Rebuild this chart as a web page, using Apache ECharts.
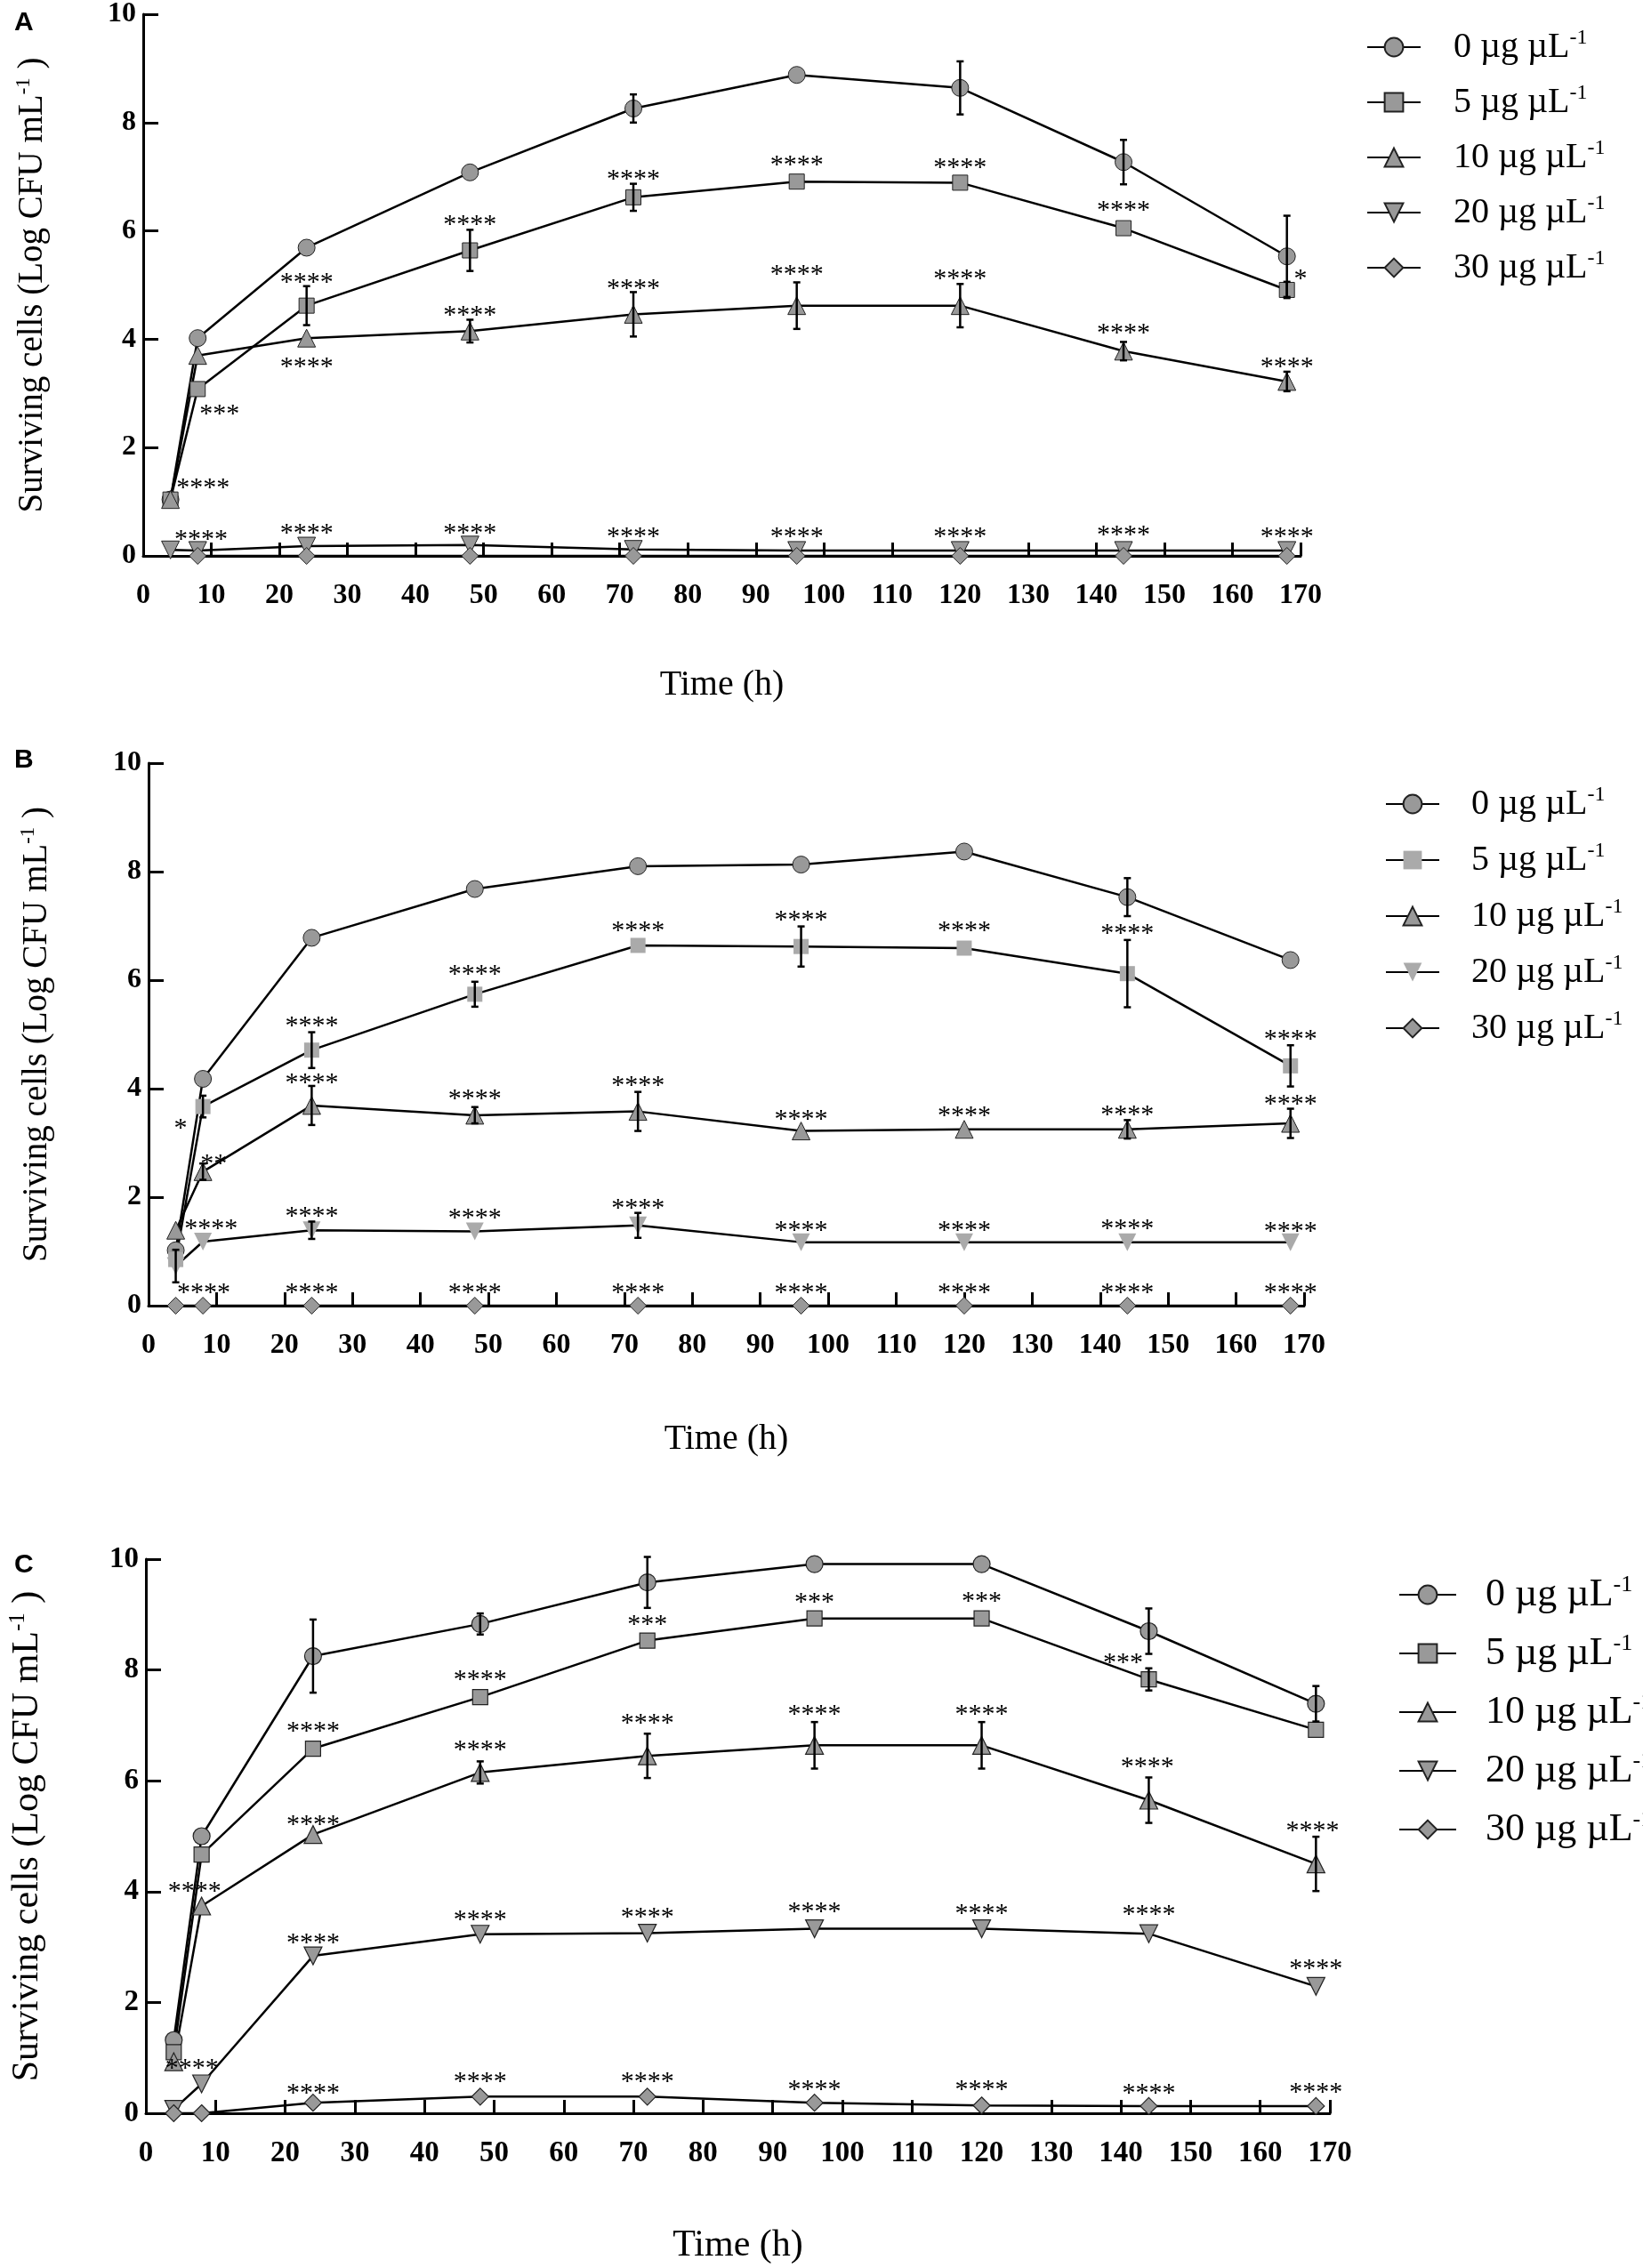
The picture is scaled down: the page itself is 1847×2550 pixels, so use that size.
<!DOCTYPE html>
<html><head><meta charset="utf-8">
<script src="https://cdn.jsdelivr.net/npm/echarts@6/dist/echarts.min.js"></script>
<style>html,body{margin:0;padding:0;background:#fff}#c{width:1847px;height:2550px}</style>
</head><body><div id="c"></div><script>
// ---------------- DATA ----------------
const times = [4, 8, 24, 48, 72, 96, 120, 144, 168];
const doses = ['0', '5', '10', '20', '30'];
const xTicks = [0, 170, 10];   // min, max, step
const yTicks = [0, 10, 2];

// Panel A
const A_0  = [1.04, 4.02, 5.69, 7.08, 8.26, 8.88, 8.64, 7.27, 5.53];
const A_0e = [0, 0, 0, 0, 0.26, 0, 0.49, 0.41, 0.75];
const A_5  = [1.04, 3.08, 4.62, 5.64, 6.62, 6.91, 6.89, 6.05, 4.91];
const A_5e = [0, 0, 0.36, 0.38, 0.25, 0, 0, 0, 0.15];
const A_10 = [1.04, 3.70, 4.02, 4.15, 4.46, 4.62, 4.62, 3.78, 3.22];
const A_10e= [0, 0, 0, 0.21, 0.41, 0.43, 0.40, 0.17, 0.18];
const A_20 = [0.11, 0.10, 0.18, 0.20, 0.12, 0.10, 0.10, 0.10, 0.10];
const A_20e= [0, 0, 0, 0, 0, 0, 0, 0, 0];
const A_30 = [null, 0, 0, 0, 0, 0, 0, 0, 0];
const A_30e= [0, 0, 0, 0, 0, 0, 0, 0, 0];
const A_sig = [
  [8.8,1.35,'****'],[11.2,2.7,'***'],[24,5.14,'****'],[24,3.57,'****'],[48,6.21,'****'],[48,4.53,'****'],
  [72,7.04,'****'],[72,5.03,'****'],[96,7.31,'****'],[96,5.28,'****'],[120,7.25,'****'],[120,5.21,'****'],
  [144,6.47,'****'],[144,4.2,'****'],[170,5.2,'*'],[168,3.58,'****'],
  [8.5,0.4,'****'],[24,0.51,'****'],[48,0.51,'****'],[72,0.44,'****'],[96,0.44,'****'],[120,0.44,'****'],[144,0.47,'****'],[168,0.44,'****']
];

// Panel B
const B_0  = [1.02, 4.18, 6.78, 7.68, 8.10, 8.13, 8.37, 7.53, 6.37];
const B_0e = [0, 0, 0, 0, 0, 0, 0, 0.35, 0];
const B_5  = [0.85, 3.67, 4.71, 5.74, 6.64, 6.62, 6.59, 6.12, 4.42];
const B_5e = [0, 0.2, 0.33, 0.23, 0, 0.37, 0, 0.62, 0.38];
const B_10 = [1.39, 2.47, 3.69, 3.51, 3.58, 3.22, 3.25, 3.25, 3.36];
const B_10e= [0, 0.15, 0.36, 0.15, 0.36, 0, 0, 0.17, 0.27];
const B_20 = [0.73, 1.18, 1.39, 1.37, 1.48, 1.17, 1.17, 1.17, 1.17];
const B_20e= [0.3, 0, 0.16, 0, 0.23, 0, 0, 0, 0];
const B_30 = [0, 0, 0, 0, 0, 0, 0, 0, 0];
const B_30e= [0, 0, 0, 0, 0, 0, 0, 0, 0];
const B_sig = [
  [4.7,3.36,'*'],[9.6,2.7,'**'],[24,5.25,'****'],[24,4.2,'****'],[48,6.2,'****'],[48,3.9,'****'],
  [72,7.0,'****'],[72,4.15,'****'],[96,7.2,'****'],[96,3.52,'****'],[120,7.0,'****'],[120,3.58,'****'],
  [144,6.95,'****'],[144,3.6,'****'],[168,5.0,'****'],[168,3.8,'****'],
  [9.2,1.5,'****'],[24,1.74,'****'],[48,1.7,'****'],[72,1.89,'****'],[96,1.48,'****'],[120,1.48,'****'],[144,1.5,'****'],[168,1.46,'****'],
  [8.1,0.32,'****'],[24,0.32,'****'],[48,0.32,'****'],[72,0.33,'****'],[96,0.32,'****'],[120,0.33,'****'],[144,0.33,'****'],[168,0.32,'****']
];

// Panel C
const C_0  = [1.32, 5.00, 8.25, 8.83, 9.58, 9.91, 9.91, 8.70, 7.39];
const C_0e = [0, 0, 0.66, 0.19, 0.46, 0, 0, 0.41, 0.32];
const C_5  = [1.10, 4.67, 6.58, 7.51, 8.53, 8.93, 8.93, 7.83, 6.92];
const C_5e = [0, 0, 0, 0, 0, 0, 0, 0.2, 0];
const C_10 = [0.93, 3.74, 5.03, 6.15, 6.45, 6.64, 6.64, 5.65, 4.50];
const C_10e= [0, 0, 0, 0.2, 0.4, 0.42, 0.42, 0.41, 0.49];
const C_20 = [0.07, 0.53, 2.84, 3.23, 3.25, 3.33, 3.33, 3.24, 2.29];
const C_20e= [0, 0, 0, 0, 0, 0, 0, 0, 0];
const C_30 = [0, 0, 0.19, 0.30, 0.30, 0.19, 0.14, 0.13, 0.13];
const C_30e= [0, 0, 0, 0, 0, 0, 0, 0, 0];
const C_sig = [
  [72,8.91,'***'],[96,9.3,'***'],[120,9.32,'***'],[140.3,8.22,'***'],[24,6.98,'****'],[48,7.91,'****'],
  [7,4.09,'****'],[24,5.3,'****'],[48,6.64,'****'],[72,7.13,'****'],[96,7.28,'****'],[120,7.28,'****'],[143.8,6.34,'****'],[167.5,5.18,'****'],
  [6.6,0.89,'****'],[24,3.16,'****'],[48,3.58,'****'],[72,3.63,'****'],[96,3.72,'****'],[120,3.69,'****'],[144,3.67,'****'],[168,2.7,'****'],
  [24,0.44,'****'],[48,0.65,'****'],[72,0.65,'****'],[96,0.51,'****'],[120,0.51,'****'],[144,0.45,'****'],[168,0.47,'****']
];

// ---------------- LAYOUT / STYLE ----------------
const SERIF = 'Liberation Serif';
const panels = [
  { key:'A', vals:[A_0,A_5,A_10,A_20,A_30], errs:[A_0e,A_5e,A_10e,A_20e,A_30e], sig:A_sig,
    grid:{left:161, top:14, width:1301, height:611}, letterTop:6,
    legend:{left:1531, top:26, iw:60, ih:26, gap:20, lh:42, fs:40, sp:32},
    yNameGap:103, yNameFs:39, xNameGap:125, xNameFs:40, tickFs:32,
    fills:['#999','#999','#999','#999','#999'], borders:[1,1,1,1,1] },
  { key:'B', vals:[B_0,B_5,B_10,B_20,B_30], errs:[B_0e,B_5e,B_10e,B_20e,B_30e], sig:B_sig,
    grid:{left:167, top:858, width:1299, height:610}, letterTop:835,
    legend:{left:1552, top:877, iw:60, ih:26, gap:21, lh:42, fs:40, sp:31},
    yNameGap:104, yNameFs:39, xNameGap:130, xNameFs:40, tickFs:32,
    fills:['#999','#aaa','#999','#aaa','#999'], borders:[1,0,1,0,1] },
  { key:'C', vals:[C_0,C_5,C_10,C_20,C_30], errs:[C_0e,C_5e,C_10e,C_20e,C_30e], sig:C_sig,
    grid:{left:164, top:1753, width:1331, height:623}, letterTop:1740,
    legend:{left:1567, top:1764, iw:64, ih:26, gap:20, lh:44, fs:44, sp:28},
    yNameGap:110, yNameFs:42, xNameGap:128, xNameFs:42, tickFs:33,
    fills:['#999','#999','#999','#999','#999'], borders:[1.2,1.2,1.2,1.2,1.2] }
];
const symbols = ['circle','rect','triangle','triangle','diamond'];
const rotates = [0,0,0,180,0];
const sizes = [19,17,20,20,19];

const option = { animation:false, backgroundColor:'#fff',
  title:[], grid:[], xAxis:[], yAxis:[], legend:[], series:[] };

panels.forEach((p, k) => {
  option.title.push({ text:p.key, left:11, top:p.letterTop,
    textStyle:{ fontFamily:'Liberation Sans', fontWeight:'bold', fontSize:30, color:'#000' } });
  option.grid.push(Object.assign({ containLabel:false }, p.grid));
  const axisLine = { show:true, onZero:false, lineStyle:{ color:'#000', width:3 } };
  option.xAxis.push({ type:'value', gridIndex:k, min:xTicks[0], max:xTicks[1], interval:xTicks[2],
    name:'Time (h)', nameLocation:'middle', nameGap:p.xNameGap,
    nameTextStyle:{ fontFamily:SERIF, fontSize:p.xNameFs, color:'#000' },
    axisLine, axisTick:{ show:true, inside:true, length:15, lineStyle:{ color:'#000', width:3 } },
    axisLabel:{ fontFamily:SERIF, fontWeight:'bold', fontSize:p.tickFs, color:'#000', margin:29 },
    splitLine:{ show:false } });
  option.yAxis.push({ type:'value', gridIndex:k, min:yTicks[0], max:yTicks[1], interval:yTicks[2],
    name:'{t|Surviving cells (Log CFU mL}{s|-1}{t| )}', nameLocation:'middle', nameGap:p.yNameGap, nameRotate:90,
    nameTextStyle:{ color:'#000', rich:{
      t:{ fontFamily:SERIF, fontSize:p.yNameFs, color:'#000' },
      s:{ fontFamily:SERIF, fontSize:Math.round(p.yNameFs*0.6), color:'#000', padding:[0,0,Math.round(p.yNameFs*0.5),0] } } },
    axisLine, axisTick:{ show:true, inside:true, length:17, lineStyle:{ color:'#000', width:3 } },
    axisLabel:{ fontFamily:SERIF, fontWeight:'bold', fontSize:p.tickFs, color:'#000', margin:8 },
    splitLine:{ show:false } });

  const names = doses.map(d => p.key + d);
  option.legend.push({ data:names, orient:'vertical', left:p.legend.left, top:p.legend.top,
    itemWidth:p.legend.iw, itemHeight:p.legend.ih, itemGap:p.legend.gap, selectedMode:false,
    formatter: n => '{sp| }{t|' + n.slice(1) + ' µg µL}{s|-1}',
    textStyle:{ color:'#000', rich:{
      sp:{ width:p.legend.sp },
      t:{ fontFamily:SERIF, fontSize:p.legend.fs, lineHeight:p.legend.lh, color:'#000' },
      s:{ fontFamily:SERIF, fontSize:Math.round(p.legend.fs*0.6), color:'#000', padding:[0,0,Math.round(p.legend.fs*0.5),0] } } } });

  doses.forEach((d, i) => {
    const pts = [];
    times.forEach((t, j) => { if (p.vals[i][j] != null) pts.push([t, p.vals[i][j]]); });
    option.series.push({ type:'line', name:names[i], xAxisIndex:k, yAxisIndex:k, data:pts,
      symbol:symbols[i], symbolRotate:rotates[i], symbolSize:sizes[i], z:2,
      lineStyle:{ color:'#000', width:2.5 },
      itemStyle:{ color:p.fills[i], borderColor:'#222', borderWidth:p.borders[i] } });
  });

  // error bars
  const errPts = [];
  doses.forEach((d, i) => times.forEach((t, j) => {
    const e = p.errs[i][j]; if (e && p.vals[i][j] != null) errPts.push([t, p.vals[i][j], e]);
  }));
  option.series.push({ type:'custom', xAxisIndex:k, yAxisIndex:k, z:3, data:errPts, silent:true,
    renderItem:(params, api) => {
      const x = api.value(0), y = api.value(1), e = api.value(2);
      const hi = api.coord([x, y + e]), lo = api.coord([x, y - e]);
      const c = 4, st = { stroke:'#000', lineWidth:2.5 };
      return { type:'group', children:[
        { type:'line', shape:{ x1:hi[0], y1:hi[1], x2:lo[0], y2:lo[1] }, style:st },
        { type:'line', shape:{ x1:hi[0]-c, y1:hi[1], x2:hi[0]+c, y2:hi[1] }, style:st },
        { type:'line', shape:{ x1:lo[0]-c, y1:lo[1], x2:lo[0]+c, y2:lo[1] }, style:st } ] };
    } });

  // significance marks
  const sig = p.sig;
  option.series.push({ type:'custom', xAxisIndex:k, yAxisIndex:k, z:4, silent:true,
    data:sig.map(s => [s[0], s[1]]),
    renderItem:(params, api) => {
      const pt = api.coord([api.value(0), api.value(1)]);
      return { type:'text', x:pt[0], y:pt[1] + 6,
        style:{ text:sig[params.dataIndex][2], fontFamily:SERIF, fontSize:30, fill:'#000',
          textAlign:'center', textVerticalAlign:'middle' } };
    } });
});

const chart = echarts.init(document.getElementById('c'), null, { renderer:'canvas' });
chart.setOption(option);
</script></body></html>
